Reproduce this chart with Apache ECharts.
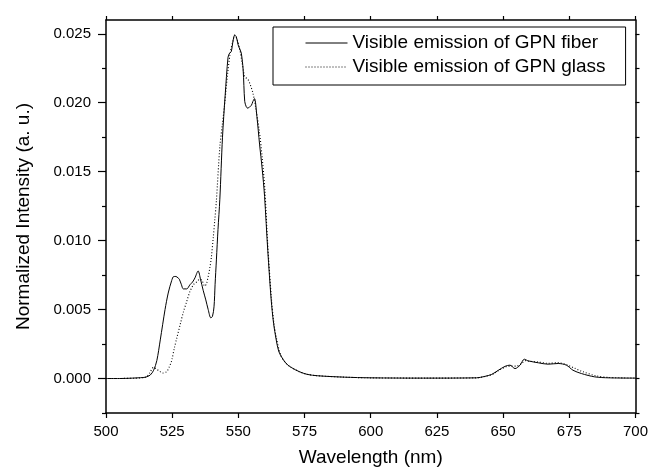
<!DOCTYPE html>
<html><head><meta charset="utf-8">
<script src="https://cdn.jsdelivr.net/npm/echarts@6/dist/echarts.min.js"></script>
<style>html,body{margin:0;padding:0;background:#fff}#c{width:651px;height:473px}</style>
</head><body><div id="c"></div>
<script>
const seriesNames = ['Visible emission of GPN fiber', 'Visible emission of GPN glass'];
const fiberWavelength = [500,505,510,513,515,516.7,518,519.2,520.5,522.3,523.5,524.8,525.6,526.4,527.2,527.7,528.5,529.2,530.5,531.7,532.7,533.6,534.8,535.7,536.7,537.7,538.6,539.6,540.2,540.8,541.2,541.7,542.3,543,544,545,546.1,546.7,547.3,548,548.6,549.2,549.9,550.5,551.1,551.8,552.4,553,553.6,554.2,554.9,555.5,556.1,557,558,559,559.9,561.1,562.4,563.3,564.3,565.2,566.2,568,570,573,576,580,590,600,620,640,643,645.7,648.2,650.8,652.6,654.5,656.4,658,659.5,663.3,667,670.8,673.9,676.4,679.6,684.6,690,700];
const fiberIntensity = [0,0,0.00003,0.00006,0.0001,0.00025,0.0006,0.0013,0.0028,0.0050,0.0062,0.0071,0.0074,0.0074,0.0073,0.0072,0.0068,0.0065,0.0065,0.0068,0.0070,0.0073,0.0078,0.0072,0.0064,0.0057,0.0050,0.0044,0.0045,0.0052,0.0068,0.0086,0.0108,0.0130,0.0175,0.0205,0.0233,0.0236,0.0237,0.0245,0.0249,0.0248,0.0242,0.0239,0.0236,0.0224,0.0201,0.0197,0.0196,0.0197,0.0198,0.0201,0.0203,0.0190,0.0170,0.0152,0.0132,0.0093,0.0057,0.0040,0.0028,0.0020,0.0016,0.0011,0.0008,0.0005,0.0003,0.0002,0.0001,0.00005,0.00003,0.00005,0.00015,0.0003,0.0006,0.00089,0.00097,0.00072,0.00097,0.0014,0.00128,0.00114,0.00104,0.00109,0.00097,0.0006,0.00036,0.00012,0.00005,0.00003];
const glassWavelength = [500,510,515,516.5,517.9,519,520.4,521.5,522.9,523.8,524.8,525.8,526.7,528,529.2,530.5,531.7,533,534.2,535.5,536.3,537.3,538,539.2,539.8,540.5,541.1,541.7,543,544,544.8,546,547,548,548.6,549.5,550.5,551.5,552.4,553.6,554.5,555.5,556.5,558,559,560,561,562.4,563.3,564.3,566,568,570,573,576,580,590,600,620,640,643,646,648.5,651,653,655,657,658.5,660,663.3,667,670.8,674,677,680,685,690,700];
const glassIntensity = [0,0.00002,0.0001,0.0004,0.0008,0.0007,0.0005,0.0004,0.0005,0.0008,0.0013,0.0022,0.0029,0.0039,0.0048,0.0056,0.0063,0.0068,0.0070,0.0072,0.0071,0.0067,0.0069,0.0080,0.0088,0.0102,0.0115,0.0129,0.0168,0.0185,0.0199,0.0222,0.0237,0.0245,0.0249,0.0246,0.0239,0.0228,0.0219,0.0217,0.0213,0.0207,0.0197,0.0178,0.0160,0.0137,0.0100,0.0060,0.0042,0.0030,0.0017,0.0011,0.0008,0.0005,0.0003,0.0002,0.0001,0.00005,0.00003,0.00005,0.00015,0.0003,0.0006,0.00085,0.0009,0.0009,0.0011,0.0013,0.00125,0.0012,0.0011,0.00115,0.0010,0.00075,0.0005,0.0002,0.00008,0.00003];
const yMajorTicks = [0, 0.005, 0.010, 0.015, 0.020, 0.025];
const yMinorTicks = [-0.0025, 0.0025, 0.0075, 0.0125, 0.0175, 0.0225];
const yAllTicks = [-0.0025,0,0.0025,0.005,0.0075,0.01,0.0125,0.015,0.0175,0.02,0.0225,0.025];

const FONT = 'Liberation Sans, Arial, sans-serif';
const ink = '#000';
const pair = (xs, ys) => xs.map((x, i) => [x, ys[i]]);
const yBase = {type:'value', min:-0.0025, max:0.026, splitLine:{show:false}};
const chart = echarts.init(document.getElementById('c'), null, {renderer:'canvas'});
chart.setOption({
  animation:false,
  backgroundColor:'#fff',
  grid:{left:106, right:13, top:20, bottom:60, containLabel:false},
  legend:{
    show:true, orient:'vertical', left:273, top:27,
    data:seriesNames,
    borderColor:ink, borderWidth:1, backgroundColor:'#fff',
    padding:[6,20,8,32],
    itemWidth:42, itemHeight:14, itemGap:4,
    itemStyle:{opacity:0},
    lineStyle:{width:1},
    textStyle:{fontFamily:FONT, fontSize:19, color:ink, lineHeight:20}
  },
  xAxis:[
    {type:'value', min:500, max:700, interval:25, position:'bottom',
     axisLine:{show:true, onZero:false, lineStyle:{color:ink, width:1.5}},
     axisTick:{show:true, inside:false, length:5, lineStyle:{color:ink, width:1.2}},
     axisLabel:{fontFamily:FONT, fontSize:15, color:ink, margin:11},
     splitLine:{show:false},
     name:'Wavelength (nm)', nameLocation:'middle', nameGap:35,
     nameTextStyle:{fontFamily:FONT, fontSize:19, color:ink}},
    {type:'value', min:500, max:700, interval:25, position:'top',
     axisLine:{show:true, onZero:false, lineStyle:{color:ink, width:1.5}},
     axisTick:{show:true, inside:false, length:4, lineStyle:{color:ink, width:1.2}},
     axisLabel:{show:false}, splitLine:{show:false}}
  ],
  yAxis:[
    Object.assign({}, yBase, {position:'left',
     axisLine:{show:true, onZero:false, lineStyle:{color:ink, width:1.5}},
     axisTick:{show:true, inside:false, length:8, customValues:yMajorTicks, lineStyle:{color:ink, width:1.2}},
     axisLabel:{fontFamily:FONT, fontSize:15, color:ink, margin:15, customValues:yMajorTicks,
       formatter:v => v.toFixed(3)},
     name:'Normalized Intensity (a. u.)', nameLocation:'middle', nameGap:73, nameRotate:90,
     nameTextStyle:{fontFamily:FONT, fontSize:19, color:ink}}),
    Object.assign({}, yBase, {position:'left',
     axisLine:{show:false, onZero:false},
     axisTick:{show:true, inside:false, length:4, customValues:yMinorTicks, lineStyle:{color:ink, width:1.2}},
     axisLabel:{show:false}}),
    Object.assign({}, yBase, {position:'right',
     axisLine:{show:true, onZero:false, lineStyle:{color:ink, width:1.5}},
     axisTick:{show:true, inside:false, length:4, customValues:yAllTicks, lineStyle:{color:ink, width:1.2}},
     axisLabel:{show:false}})
  ],
  series:[
    {name:seriesNames[0], type:'line', xAxisIndex:0, yAxisIndex:0, data:pair(fiberWavelength, fiberIntensity),
     showSymbol:false, symbol:'none', smooth:0.3, lineStyle:{color:ink, width:1, type:'solid'}, itemStyle:{color:ink}},
    {name:seriesNames[1], type:'line', xAxisIndex:0, yAxisIndex:0, data:pair(glassWavelength, glassIntensity),
     showSymbol:false, symbol:'none', smooth:0.3, lineStyle:{color:ink, width:1.1, type:[1,2]}, itemStyle:{color:ink}}
  ]
});
</script></body></html>
